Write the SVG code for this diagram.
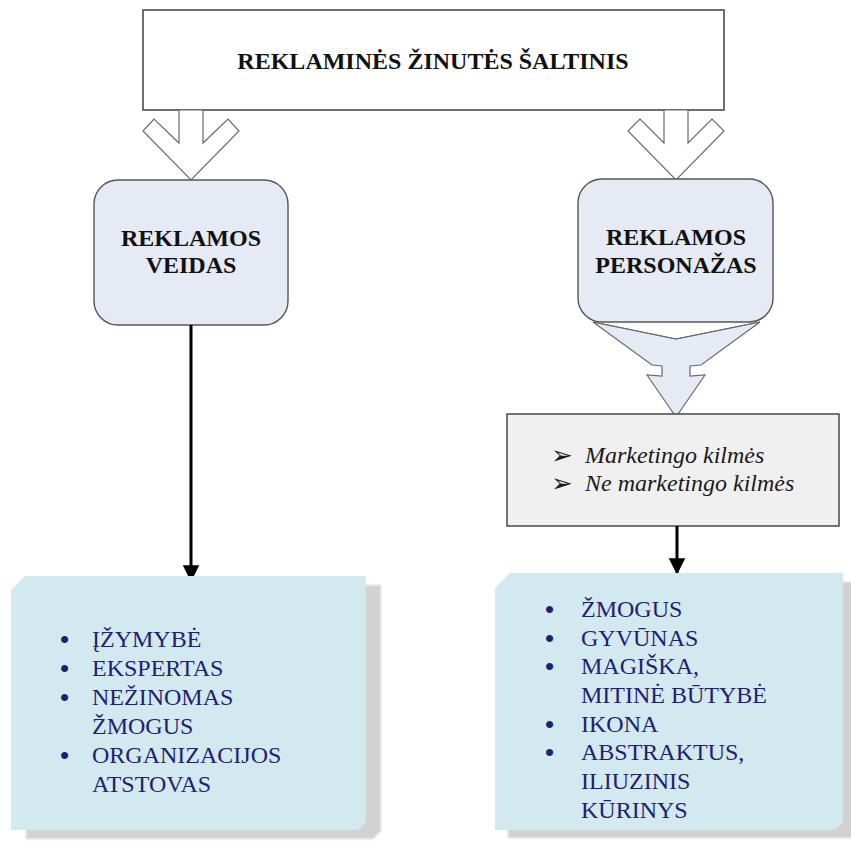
<svg xmlns="http://www.w3.org/2000/svg" width="851" height="843" viewBox="0 0 851 843">
  <defs>
    <style>
      .frame { fill: #ffffff; stroke: #4a4a4a; stroke-width: 1.6; }
      .soft { fill: #e5eaf5; stroke: #555555; stroke-width: 1.4; }
      .hollow { fill: #ffffff; stroke: #6a6a6a; stroke-width: 1.2; stroke-linejoin: miter; }
      .funnel { fill: #e5eaf5; stroke: #6a6a6a; stroke-width: 1.2; }
      .grey { fill: #f0f0f0; stroke: #3c3c3c; stroke-width: 1.4; }
      .card { fill: #d3e9f0; }
      .shadow { fill: #d2d2d2; }
      .head { font-family: "Liberation Serif", "Times New Roman", serif; font-weight: bold; font-size: 24px; fill: #111111; text-anchor: middle; }
      .item { font-family: "Liberation Serif", "Times New Roman", serif; font-size: 24px; fill: #1f2170; }
      .dot { font-family: "Liberation Sans", Arial, sans-serif; font-size: 26px; fill: #1f2170; }
      .ital { font-family: "Liberation Serif", "Times New Roman", serif; font-style: italic; font-size: 24px; fill: #1a1a1a; }
      .mark { font-family: "DejaVu Sans", sans-serif; font-style: normal; font-size: 26px; fill: #1a1a1a; }
      .link { stroke: #000000; stroke-width: 3; fill: none; }
    </style>
    <marker id="tip" viewBox="0 0 10 10" refX="9" refY="5" markerWidth="5.5" markerHeight="6" markerUnits="strokeWidth" orient="auto">
      <path d="M0,0 L10,5 L0,10 Z" fill="#000000"/>
    </marker>
    <filter id="blur" x="-5%" y="-5%" width="110%" height="110%">
      <feGaussianBlur stdDeviation="1.2"/>
    </filter>
  </defs>

  <!-- source box -->
  <g id="source">
    <rect class="frame" x="143" y="10" width="581" height="100"/>
    <text class="head" x="433" y="69">REKLAMINĖS ŽINUTĖS ŠALTINIS</text>
  </g>

  <!-- hollow split arrows under the source box -->
  <g id="split-arrows">
    <polygon class="hollow" points="179,110 179,143 154,119 143,131 191,180 239,131 228,119 203,143 203,110"/>
    <polygon class="hollow" points="664,110 664,143 640,119 628,131 676,180 724,131 712,119 688,143 688,110"/>
  </g>

  <!-- left branch head -->
  <g id="face">
    <rect class="soft" x="94" y="180" width="194" height="145" rx="24" ry="24"/>
    <text class="head" x="191" y="246">REKLAMOS</text>
    <text class="head" x="191" y="273">VEIDAS</text>
  </g>

  <!-- right branch head with funnel -->
  <g id="character">
    <polygon class="funnel" points="593,322 676,339 760,322 701,365 690,366 690,376 705,375 676,417 647,375 662,376 662,366 652,365"/>
    <rect class="soft" x="578" y="179" width="195" height="143" rx="24" ry="24"/>
    <polyline fill="none" stroke="#6a6a6a" stroke-width="1.2" points="593,322 676,339 760,322"/>
    <text class="head" x="676" y="245">REKLAMOS</text>
    <text class="head" x="676" y="273">PERSONAŽAS</text>
  </g>

  <!-- origin box -->
  <g id="origin">
    <rect class="grey" x="507" y="414" width="332" height="112"/>
    <text class="ital" x="551" y="464"><tspan class="mark">➢</tspan><tspan x="585" y="463">Marketingo kilmės</tspan></text>
    <text class="ital" x="551" y="492"><tspan class="mark">➢</tspan><tspan x="585" y="491">Ne marketingo kilmės</tspan></text>
  </g>

  <!-- connectors -->
  <g id="connectors">
    <line class="link" x1="191" y1="325" x2="191" y2="580" marker-end="url(#tip)"/>
    <line class="link" x1="677" y1="526" x2="677" y2="573" marker-end="url(#tip)"/>
  </g>

  <!-- face types -->
  <g id="face-types">
    <polygon class="shadow" filter="url(#blur)" points="26,599 40,585 381,585 381,831 373,839 26,839"/>
    <polygon class="card" points="11,590 25,576 366,576 366,822 358,830 11,830"/>
    <text class="dot" x="60" y="648">•</text><text class="item" x="92" y="647">ĮŽYMYBĖ</text>
    <text class="dot" x="60" y="677">•</text><text class="item" x="92" y="676">EKSPERTAS</text>
    <text class="dot" x="60" y="706">•</text><text class="item" x="92" y="705">NEŽINOMAS</text>
    <text class="item" x="92" y="734">ŽMOGUS</text>
    <text class="dot" x="60" y="764">•</text><text class="item" x="92" y="763">ORGANIZACIJOS</text>
    <text class="item" x="92" y="792">ATSTOVAS</text>
  </g>

  <!-- character types -->
  <g id="character-types">
    <polygon class="shadow" filter="url(#blur)" points="508,596 522,582 857,582 857,838 508,838"/>
    <polygon class="card" points="495,588 510,573 843,573 843,822 835,830 495,830"/>
    <text class="dot" x="545" y="618">•</text><text class="item" x="581" y="617">ŽMOGUS</text>
    <text class="dot" x="545" y="647">•</text><text class="item" x="581" y="646">GYVŪNAS</text>
    <text class="dot" x="545" y="675">•</text><text class="item" x="581" y="674">MAGIŠKA,</text>
    <text class="item" x="581" y="703">MITINĖ BŪTYBĖ</text>
    <text class="dot" x="545" y="733">•</text><text class="item" x="581" y="732">IKONA</text>
    <text class="dot" x="545" y="761">•</text><text class="item" x="581" y="760">ABSTRAKTUS,</text>
    <text class="item" x="581" y="789">ILIUZINIS</text>
    <text class="item" x="581" y="818">KŪRINYS</text>
  </g>
</svg>
